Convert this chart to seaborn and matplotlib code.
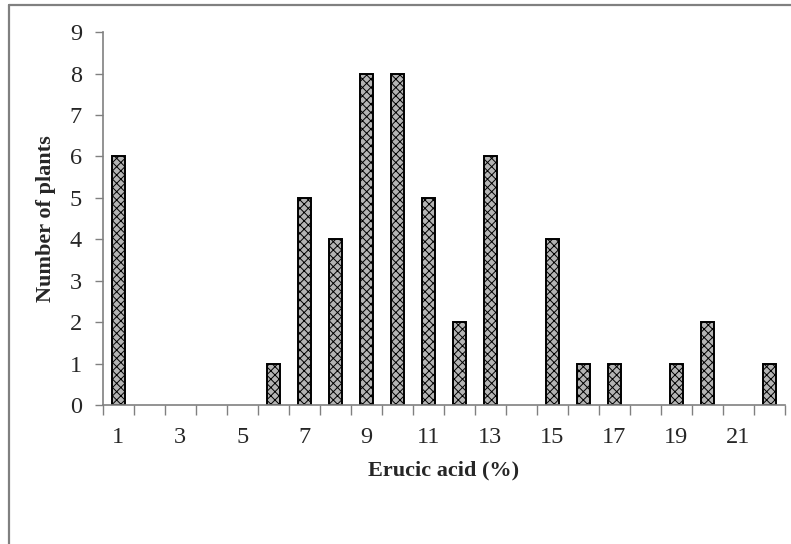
import matplotlib
matplotlib.use("Agg")
import matplotlib.pyplot as plt
import seaborn as sns
import pandas as pd
from matplotlib.lines import Line2D

# erucic acid classes (%) and number of plants per class
erucic = list(range(1, 23))
plants = [6, 0, 0, 0, 0, 1, 5, 4, 8, 8, 5, 2, 6, 0, 4, 1, 1, 0, 1, 2, 0, 1]
tick_labels = [str(v) if v % 2 == 1 else "" for v in erucic]

df = pd.DataFrame({"Erucic": erucic, "Plants": plants})

sns.set_style("white")
plt.rcParams["font.family"] = ["Liberation Serif", "DejaVu Serif"]
plt.rcParams["hatch.linewidth"] = 0.7

fig = plt.figure(figsize=(7.91, 5.44), dpi=100)
ax = fig.add_axes([0.130, 0.2555, 0.862, 0.6855])

sns.barplot(data=df, x="Erucic", y="Plants", ax=ax, width=0.42,
            color="#b4b4b4", edgecolor="black", linewidth=1.4)
for p in ax.patches:
    p.set_hatch("xxxx")
    if p.get_height() == 0:
        p.set_visible(False)

ax.set_ylim(0, 9)
ax.set_xlim(-0.5, len(erucic) - 0.5)
ax.set_yticks(range(0, 10))
ax.tick_params(axis="y", labelsize=17.5, length=6, width=1, color="#808080",
               direction="out", left=True, pad=9)

# labels at category centres, tick marks at category boundaries
ax.set_xticks(range(len(erucic)))
ax.set_xticklabels(tick_labels)
ax.set_xticks([i - 0.5 for i in range(len(erucic) + 1)], minor=True)
ax.tick_params(axis="x", which="major", labelsize=17.5, length=0, pad=16)
ax.tick_params(axis="x", which="minor", length=7, width=1, color="#808080",
               direction="out", bottom=True)

for s in ["top", "right"]:
    ax.spines[s].set_visible(False)
for s in ["left", "bottom"]:
    ax.spines[s].set_color("#808080")
    ax.spines[s].set_linewidth(1.2)

ax.set_xlabel("Erucic acid (%)", fontsize=16, fontweight="bold", labelpad=9)
ax.set_ylabel("Number of plants", fontsize=16, fontweight="bold", labelpad=10)

# outer chart frame
fig.add_artist(Line2D([8.5 / 791, 8.5 / 791], [0, 1 - 5 / 544],
                      transform=fig.transFigure, color="#808080", lw=1.6))
fig.add_artist(Line2D([8.5 / 791, 1], [1 - 5 / 544, 1 - 5 / 544],
                      transform=fig.transFigure, color="#808080", lw=1.6))

fig.savefig("out.png", dpi=100)
